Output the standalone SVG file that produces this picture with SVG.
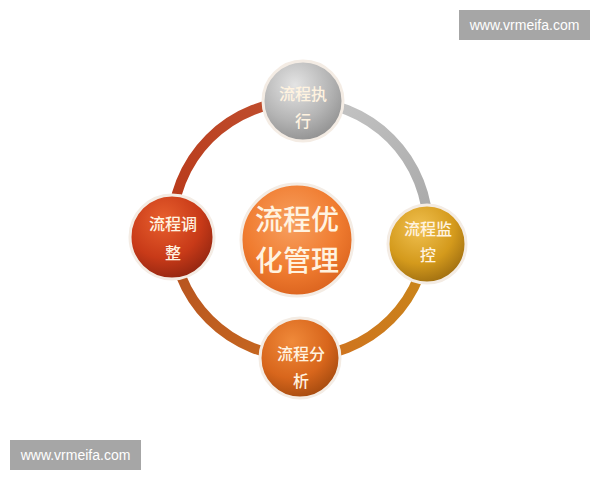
<svg xmlns="http://www.w3.org/2000/svg" width="600" height="480" viewBox="0 0 600 480">
<defs>
<style>
.lbl{font-family:"Noto Sans CJK SC","Noto Sans CJK JP",sans-serif;fill:#fff3e0;text-anchor:middle;font-size:16px;font-weight:500}
.big{font-size:28px}
.wm{font-family:"Liberation Sans",Arial,sans-serif;font-size:14px;fill:#fff;text-anchor:middle}
.seg{fill:none;stroke-width:10;stroke-linecap:round}
.rim{fill:none;stroke:#f4ece4;stroke-width:3}
</style>
<radialGradient id="gGray" cx="40%" cy="30%" r="75%"><stop offset="0" stop-color="#e4e4e4"/><stop offset="0.6" stop-color="#b4b4b4"/><stop offset="1" stop-color="#8e8e8e"/></radialGradient>
<radialGradient id="gGold" cx="40%" cy="30%" r="75%"><stop offset="0" stop-color="#f0c050"/><stop offset="0.6" stop-color="#d49a1c"/><stop offset="1" stop-color="#9a6a10"/></radialGradient>
<radialGradient id="gOrange" cx="40%" cy="30%" r="75%"><stop offset="0" stop-color="#f08a3a"/><stop offset="0.6" stop-color="#d8661c"/><stop offset="1" stop-color="#a0480e"/></radialGradient>
<radialGradient id="gRed" cx="40%" cy="30%" r="75%"><stop offset="0" stop-color="#e8602e"/><stop offset="0.6" stop-color="#c83a18"/><stop offset="1" stop-color="#8e2410"/></radialGradient>
<radialGradient id="gCenter" cx="45%" cy="35%" r="70%"><stop offset="0" stop-color="#f7a060"/><stop offset="0.6" stop-color="#f07c30"/><stop offset="1" stop-color="#d8601c"/></radialGradient>
<linearGradient id="sTR" x1="0" y1="0" x2="1" y2="1"><stop offset="0" stop-color="#c8c8c8"/><stop offset="1" stop-color="#a8a8a8"/></linearGradient>
<linearGradient id="sBR" x1="1" y1="0" x2="0" y2="1"><stop offset="0" stop-color="#c88a18"/><stop offset="1" stop-color="#d07020"/></linearGradient>
<linearGradient id="sBL" x1="1" y1="1" x2="0" y2="0"><stop offset="0" stop-color="#c86a20"/><stop offset="1" stop-color="#b45020"/></linearGradient>
<linearGradient id="sTL" x1="0" y1="1" x2="1" y2="0"><stop offset="0" stop-color="#b83818"/><stop offset="1" stop-color="#c05030"/></linearGradient>
</defs>
<rect width="600" height="480" fill="#ffffff"/>
<g id="connectors">
<path class="seg" stroke="url(#sTR)" d="M300,101 A128,128 0 0 1 428,229"/>
<path class="seg" stroke="url(#sBR)" d="M428,229 A128,128 0 0 1 300,357"/>
<path class="seg" stroke="url(#sBL)" d="M300,357 A128,128 0 0 1 172,229"/>
<path class="seg" stroke="url(#sTL)" d="M172,229 A128,128 0 0 1 300,101"/>
</g>
<g id="center">
<circle cx="297" cy="240" r="56" fill="url(#gCenter)"/>
<circle class="rim" cx="297" cy="240" r="56" stroke="#f3c8a0"/>
<text class="lbl big" x="297" y="230">流程优</text>
<text class="lbl big" x="297" y="271">化管理</text>
</g>
<g id="node-top">
<circle cx="303" cy="101" r="40" fill="url(#gGray)"/>
<circle class="rim" cx="303" cy="101" r="40"/>
<text class="lbl" x="303" y="100">流程执</text>
<text class="lbl" x="303" y="127">行</text>
</g>
<g id="node-right">
<circle cx="427" cy="244" r="39" fill="url(#gGold)"/>
<circle class="rim" cx="427" cy="244" r="39"/>
<text class="lbl" x="428" y="235">流程监</text>
<text class="lbl" x="428" y="261">控</text>
</g>
<g id="node-bottom">
<circle cx="300" cy="358" r="40" fill="url(#gOrange)"/>
<circle class="rim" cx="300" cy="358" r="40"/>
<text class="lbl" x="301" y="360">流程分</text>
<text class="lbl" x="301" y="387">析</text>
</g>
<g id="node-left">
<circle cx="172" cy="237" r="42" fill="url(#gRed)"/>
<circle class="rim" cx="172" cy="237" r="42"/>
<text class="lbl" x="173" y="230">流程调</text>
<text class="lbl" x="173" y="259">整</text>
</g>
<g id="watermark-top">
<rect x="459" y="10" width="131" height="30" fill="#a6a6a6"/>
<text class="wm" x="524.5" y="30">www.vrmeifa.com</text>
</g>
<g id="watermark-bottom">
<rect x="10" y="440" width="131" height="30" fill="#a6a6a6"/>
<text class="wm" x="75.5" y="460">www.vrmeifa.com</text>
</g>
</svg>
